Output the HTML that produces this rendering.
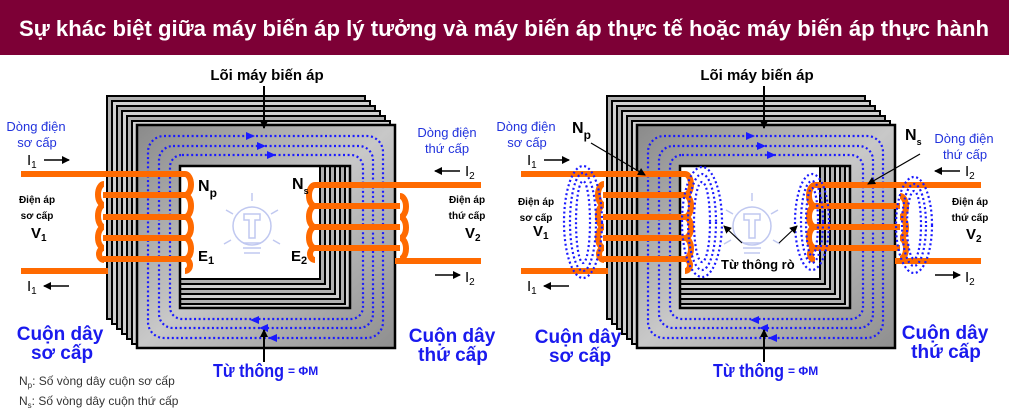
<!DOCTYPE html>
<html><head><meta charset="utf-8"><style>
html,body{margin:0;padding:0;background:#fff;}
svg{display:block;}
text{font-family:"Liberation Sans","DejaVu Sans",sans-serif;}
</style></head><body>
<svg width="1009" height="414" viewBox="0 0 1009 414" xmlns="http://www.w3.org/2000/svg">
<defs>
<linearGradient id="face" x1="0" y1="0" x2="1" y2="1">
<stop offset="0" stop-color="#8a8a8a"/><stop offset="0.5" stop-color="#c8c8c8"/><stop offset="1" stop-color="#8e8e8e"/>
</linearGradient>
<marker id="ah" markerWidth="8" markerHeight="8" refX="7" refY="4" orient="auto" markerUnits="userSpaceOnUse"><path d="M0,0 L8,4 L0,8 z" fill="#000"/></marker>
<g id="core">
<path d="M107,96h258v223h-258zM150,137h170v142h-170z" fill="#b0b0b0" stroke="#000" stroke-width="2" fill-rule="evenodd"/>
<path d="M112,101h258v223h-258zM155,142h170v142h-170z" fill="#d0d0d0" stroke="#000" stroke-width="2" fill-rule="evenodd"/>
<path d="M117,106h258v223h-258zM160,147h170v142h-170z" fill="#b0b0b0" stroke="#000" stroke-width="2" fill-rule="evenodd"/>
<path d="M122,111h258v223h-258zM165,152h170v142h-170z" fill="#d0d0d0" stroke="#000" stroke-width="2" fill-rule="evenodd"/>
<path d="M127,116h258v223h-258zM170,157h170v142h-170z" fill="#b0b0b0" stroke="#000" stroke-width="2" fill-rule="evenodd"/>
<path d="M132,121h258v223h-258zM175,162h170v142h-170z" fill="#d0d0d0" stroke="#000" stroke-width="2" fill-rule="evenodd"/>
<path d="M137,125h258v223h-258zM180,166h170v142h-170z" fill="url(#face)" stroke="#000" stroke-width="2.5" fill-rule="evenodd"/>
<g fill="none" stroke="#1a1aff" stroke-width="2.2" stroke-dasharray="2 2.6">
<rect x="148" y="136" width="235" height="202" rx="16"/>
<rect x="159" y="146" width="214" height="182" rx="14"/>
<rect x="170" y="155" width="193" height="164" rx="12"/>
</g>
<g fill="#1a1aff">
<path d="M246,132l9,4l-9,4z"/><path d="M257,142l9,4l-9,4z"/><path d="M267,151l9,4l-9,4z"/>
<path d="M259,316l-9,4l9,4z"/><path d="M268,324l-9,4l9,4z"/><path d="M277,334l-9,4l9,4z"/>
</g>
<g fill="none" stroke="#c0c8f0" stroke-width="1.5">
<circle cx="252" cy="226" r="19"/>
<path d="M244,214h16v6h-5v18h-6v-18h-5z"/>
<path d="M243,243h18M243,248h18M244,253h16"/>
<path d="M252,193v8M226,210l7,4M278,210l-7,4M224,244l7,-4M280,244l-7,-4"/>
</g>
<line x1="264" y1="86" x2="264" y2="128" stroke="#000" stroke-width="2" marker-end="url(#ah)"/>
<line x1="264" y1="362" x2="264" y2="330" stroke="#000" stroke-width="2" marker-end="url(#ah)"/>
<g fill="none" stroke="#ff6a00" stroke-width="6" stroke-linecap="butt">
<path d="M21,174H185"/><path d="M21,271H108"/>
<path d="M103,195H185M103,217H185M103,238H185M103,259H185"/>
<path d="M185,174a6,10.5 0 0 1 0,21M185,195a6,11 0 0 1 0,22M185,217a6,10.5 0 0 1 0,21M185,238a6,10.5 0 0 1 0,21M185,259a5,6 0 0 1 0,12"/>
<path d="M104,184a6,10.5 0 0 0 0,21M104,205a6,11 0 0 0 0,22M104,227a6,10.5 0 0 0 0,21M104,248a5,6 0 0 0 0,12"/>
<path d="M315,185H481"/><path d="M395,261H481"/>
<path d="M315,206H400M315,227H400M315,248H400"/>
<path d="M315,185a6,10.5 0 0 0 0,21M315,206a6,10.5 0 0 0 0,21M315,227a6,10.5 0 0 0 0,21M315,248a5,6 0 0 0 0,12"/>
<path d="M400,196a6,10.5 0 0 1 0,21M400,217a6,10.5 0 0 1 0,21M400,238a6,10.5 0 0 1 0,21"/>
</g>
</g>
</defs>
<rect x="0" y="0" width="1009" height="55" fill="#7d0036"/>
<text x="19" y="36" font-size="22" font-weight="bold" fill="#fff" textLength="970" lengthAdjust="spacingAndGlyphs">Sự khác biệt giữa máy biến áp lý tưởng và máy biến áp thực tế hoặc máy biến áp thực hành</text>

<use href="#core"/>
<use href="#core" x="500"/>

<g fill="none" stroke="#1a1aff" stroke-width="2.2" stroke-dasharray="2 2.6">
<ellipse cx="583" cy="222" rx="19" ry="56"/><ellipse cx="583" cy="222" rx="13" ry="49"/><ellipse cx="583" cy="222" rx="7" ry="41"/>
<ellipse cx="702" cy="222" rx="20" ry="55"/><ellipse cx="702" cy="222" rx="14" ry="48"/><ellipse cx="702" cy="222" rx="8" ry="40"/>
<ellipse cx="812" cy="222" rx="17" ry="48"/><ellipse cx="812" cy="222" rx="11" ry="41"/><ellipse cx="812" cy="222" rx="6" ry="34"/>
<ellipse cx="914" cy="225" rx="18" ry="48"/><ellipse cx="914" cy="225" rx="12" ry="41"/><ellipse cx="914" cy="225" rx="7" ry="34"/>
</g>

<g font-weight="bold" fill="#000">
<text x="267" y="80" font-size="15" text-anchor="middle">Lõi máy biến áp</text>
<text x="757" y="80" font-size="15" text-anchor="middle">Lõi máy biến áp</text>
</g>

<g fill="#2233dd" font-size="13">
<text x="36" y="131" text-anchor="middle">Dòng điện</text>
<text x="37" y="147" text-anchor="middle">sơ cấp</text>
<text x="447" y="137" text-anchor="middle">Dòng điện</text>
<text x="447" y="153" text-anchor="middle">thứ cấp</text>
<text x="526" y="131" text-anchor="middle">Dòng điện</text>
<text x="527" y="147" text-anchor="middle">sơ cấp</text>
<text x="964" y="143" text-anchor="middle">Dòng điện</text>
<text x="965" y="159" text-anchor="middle">thứ cấp</text>
</g>

<g font-family="Liberation Serif,serif" font-size="15" fill="#000">
<text x="27" y="165">I<tspan font-size="10" dy="3">1</tspan></text>
<text x="27" y="291">I<tspan font-size="10" dy="3">1</tspan></text>
<text x="465" y="176">I<tspan font-size="10" dy="3">2</tspan></text>
<text x="465" y="282">I<tspan font-size="10" dy="3">2</tspan></text>
<text x="527" y="165">I<tspan font-size="10" dy="3">1</tspan></text>
<text x="527" y="291">I<tspan font-size="10" dy="3">1</tspan></text>
<text x="965" y="176">I<tspan font-size="10" dy="3">2</tspan></text>
<text x="965" y="282">I<tspan font-size="10" dy="3">2</tspan></text>
</g>
<g stroke="#000" stroke-width="1.5" marker-end="url(#ah)">
<line x1="44" y1="160" x2="69" y2="160"/><line x1="69" y1="286" x2="44" y2="286"/>
<line x1="460" y1="171" x2="435" y2="171"/><line x1="435" y1="275" x2="460" y2="275"/>
<line x1="544" y1="160" x2="569" y2="160"/><line x1="569" y1="286" x2="544" y2="286"/>
<line x1="960" y1="171" x2="935" y2="171"/><line x1="935" y1="275" x2="960" y2="275"/>
</g>

<g font-weight="bold" fill="#000" font-size="10" text-anchor="middle">
<text x="37" y="203">Điện áp</text><text x="37" y="219">sơ cấp</text>
<text x="467" y="203">Điện áp</text><text x="467" y="219">thứ cấp</text>
<text x="536" y="205">Điện áp</text><text x="536" y="221">sơ cấp</text>
<text x="970" y="205">Điện áp</text><text x="970" y="221">thứ cấp</text>
</g>
<g font-weight="bold" fill="#000" font-size="15">
<text x="31" y="238">V<tspan font-size="10" dy="3">1</tspan></text>
<text x="465" y="238">V<tspan font-size="10" dy="3">2</tspan></text>
<text x="533" y="236">V<tspan font-size="10" dy="3">1</tspan></text>
<text x="966" y="239">V<tspan font-size="10" dy="3">2</tspan></text>
<text x="198" y="191" font-size="16">N<tspan font-size="12" dy="6">p</tspan></text>
<text x="292" y="189" font-size="16">N<tspan font-size="9" dy="5">s</tspan></text>
<text x="198" y="261">E<tspan font-size="11" dy="3">1</tspan></text>
<text x="291" y="261">E<tspan font-size="11" dy="3">2</tspan></text>
<text x="572" y="133" font-size="16">N<tspan font-size="12" dy="6">p</tspan></text>
<text x="905" y="140" font-size="16">N<tspan font-size="9" dy="5">s</tspan></text>
<text x="721" y="269" font-size="13">Từ thông rò</text>
</g>
<g stroke="#000" stroke-width="1.2" marker-end="url(#ah)">
<line x1="591" y1="143" x2="645" y2="175"/>
<line x1="920" y1="154" x2="868" y2="184"/>
<line x1="742" y1="243" x2="724" y2="226"/>
<line x1="779" y1="243" x2="797" y2="226"/>
</g>

<g font-weight="bold" fill="#1a1aee" font-size="19" text-anchor="middle">
<text x="60" y="340">Cuộn dây</text><text x="62" y="359">sơ cấp</text>
<text x="452" y="342">Cuộn dây</text><text x="453" y="361">thứ cấp</text>
<text x="578" y="343">Cuộn dây</text><text x="580" y="362">sơ cấp</text>
<text x="945" y="339">Cuộn dây</text><text x="946" y="358">thứ cấp</text>
</g>
<g font-weight="bold" fill="#1a1aee">
<text x="213" y="377" font-size="18" textLength="71" lengthAdjust="spacingAndGlyphs">Từ thông</text><text x="288" y="375" font-size="12">= ΦM</text>
<text x="713" y="377" font-size="18" textLength="71" lengthAdjust="spacingAndGlyphs">Từ thông</text><text x="788" y="375" font-size="12">= ΦM</text>
</g>
<g fill="#333" font-size="12">
<text x="19" y="385">N<tspan font-size="8" dy="3">p</tspan><tspan dy="-3">: Số vòng dây cuộn sơ cấp</tspan></text>
<text x="19" y="405">N<tspan font-size="8" dy="3">s</tspan><tspan dy="-3">: Số vòng dây cuộn thứ cấp</tspan></text>
</g>
</svg>
</body></html>
